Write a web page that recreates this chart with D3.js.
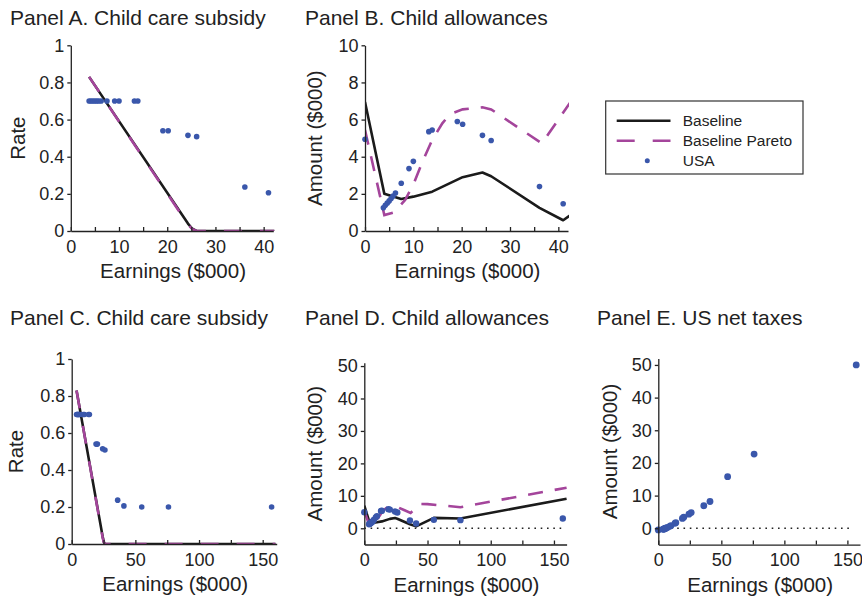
<!DOCTYPE html>
<html>
<head>
<meta charset="utf-8">
<script src="https://cdn.jsdelivr.net/npm/d3@7"></script>
<style>
  body { margin: 0; background: #fff; }
  svg { font-family: "Liberation Sans", Arial, sans-serif; }
  .tick text { font-size: 18px; fill: #222; }
  .domain, .tick line { stroke: #222; stroke-width: 1.3; }
</style>
</head>
<body>
<svg id="chart" width="862" height="601"></svg>
<script>
// ---- data ----
// earnings levels ($000) of the USA points (subsidy rate: no point at 0)
const rateEarn = [3.8, 4.2, 4.6, 5.0, 5.4, 5.8, 6.3, 7.5, 9.1, 10.0, 13.2, 13.9,
                  19.1, 20.2, 24.3, 26.1, 36.1, 41.0, 55, 76, 157];
const usaRate  = [0.70, 0.70, 0.70, 0.70, 0.70, 0.70, 0.70, 0.70, 0.70, 0.70, 0.70, 0.70,
                  0.54, 0.54, 0.515, 0.508, 0.237, 0.206, 0.20, 0.20, 0.20];

// earnings levels for allowances / net taxes (includes 0)
const usaEarn = [0, 3.8, 4.2, 4.6, 5.0, 5.4, 5.8, 6.3, 7.5, 9.1, 10.0, 13.2, 13.9,
                 19.1, 20.2, 24.3, 26.1, 36.1, 41.0, 55, 76, 157];
const usaAllow = [4.94, 1.25, 1.38, 1.50, 1.62, 1.75, 1.88, 2.05, 2.57, 3.36, 3.75, 5.35, 5.44,
                  5.90, 5.75, 5.15, 4.87, 2.39, 1.47, 2.6, 2.5, 3.0];
const usaTax   = [-0.5, -0.3, -0.25, -0.2, -0.15, -0.1, 0, 0.1, 0.3, 0.6, 0.8, 1.5, 1.7,
                  3.0, 3.4, 4.3, 4.8, 6.9, 8.2, 15.8, 22.7, 50.0];

// model schedules
const rateBaseX   = [3.8, 24.3, 25.2, 26.1, 160];
const rateBaseY   = [0.83, 0.04, 0.012, 0, 0];
const rateParetoX = [3.8, 24.3, 25.2, 26.1, 160];
const rateParetoY = [0.83, 0.035, 0.01, 0, 0];

const allowBaseX = [0, 4.0, 7.5, 10.0, 13.9, 20.2, 24.3, 26.1, 36.1, 41.0, 55, 76, 160];
const allowBaseY = [6.95, 2.0, 1.72, 1.85, 2.12, 2.9, 3.15, 2.95, 1.25, 0.58, 3.2, 3.0, 9.1];
const allowParetoX = [0, 4.0, 6.0, 8.3, 10.0, 12.0, 13.9, 16.0, 17.6, 20.2, 24.3, 26.1,
                      31.4, 36.6, 44, 50, 76, 160];
const allowParetoY = [5.44, 0.86, 1.0, 1.67, 2.5, 3.8, 4.9, 5.8, 6.3, 6.55, 6.66, 6.55,
                      5.62, 4.72, 7.5, 7.45, 6.5, 12.5];

const zip = (xs, ys) => xs.map((x, i) => ({x: x, y: ys[i]}));

const COLORS = {base: "#1b1b1b", pareto: "#a4459b", usa: "#3a57ab"};

// panel layout (pixel boxes)
const panels = [
  {title: "Panel A. Child care subsidy", tx: 10, ty: 25, ylab: "Rate", ylx: 25,
   xr: [70.8, 273.3], xd: [0, 42], yr: [231, 45.3], yd: [0, 1],
   xticks: d3.range(0, 45, 5), xlabels: d3.range(0, 50, 10), yticks: d3.range(0, 1.01, 0.2),
   base: zip(rateBaseX, rateBaseY), pareto: zip(rateParetoX, rateParetoY),
   usa: zip(rateEarn, usaRate), r: 2.8, dash: "18,18"},
  {title: "Panel B. Child allowances", tx: 305, ty: 25, ylab: "Amount ($000)", ylx: 322,
   xr: [365, 568], xd: [0, 42], yr: [231, 45.3], yd: [0, 10],
   xticks: d3.range(0, 45, 5), xlabels: d3.range(0, 50, 10), yticks: d3.range(0, 11, 2),
   base: zip(allowBaseX, allowBaseY), pareto: zip(allowParetoX, allowParetoY),
   usa: zip(usaEarn, usaAllow), r: 2.8, dash: "15,12"},
  {title: "Panel C. Child care subsidy", tx: 10, ty: 325, ylab: "Rate", ylx: 22.5,
   xr: [71.7, 276.7], xd: [0, 161], yr: [544, 359], yd: [0, 1],
   xticks: d3.range(0, 175, 25), xlabels: [0, 50, 100, 150], yticks: d3.range(0, 1.01, 0.2),
   base: zip(rateBaseX, rateBaseY), pareto: zip(rateParetoX, rateParetoY),
   usa: zip(rateEarn, usaRate), r: 2.8, dash: "18,18"},
  {title: "Panel D. Child allowances", tx: 305, ty: 325, ylab: "Amount ($000)", ylx: 322,
   xr: [364.3, 566.6], xd: [0, 160], yr: [544.5, 362.8], yd: [-5, 51],
   xticks: d3.range(0, 175, 25), xlabels: [0, 50, 100, 150], yticks: d3.range(0, 51, 10),
   base: zip(allowBaseX, allowBaseY), pareto: zip(allowParetoX, allowParetoY),
   usa: zip(usaEarn, usaAllow), r: 3.2, dash: "15,12", zero: 156},
  {title: "Panel E. US net taxes", tx: 597, ty: 325, ylab: "Amount ($000)", ylx: 617,
   xr: [658.3, 860], xd: [0, 160], yr: [544.6, 358.4], yd: [-5, 52],
   xticks: d3.range(0, 175, 25), xlabels: [0, 50, 100, 150], yticks: d3.range(0, 51, 10),
   usa: zip(usaEarn, usaTax), r: 3.4, zero: 153}
];

const svg = d3.select("#chart");

panels.forEach((p, i) => {
  const x = d3.scaleLinear().domain(p.xd).range(p.xr);
  const y = d3.scaleLinear().domain(p.yd).range(p.yr);
  const g = svg.append("g");

  // clip lines to the plotting box
  const clipId = "clip" + i;
  svg.append("clipPath").attr("id", clipId)
    .append("rect")
      .attr("x", p.xr[0]).attr("y", p.yr[1] - 4)
      .attr("width", p.xr[1] - p.xr[0] + 1).attr("height", p.yr[0] - p.yr[1] + 4);

  // title
  g.append("text")
    .attr("x", p.tx).attr("y", p.ty)
    .attr("font-size", "21px").attr("fill", "#222")
    .text(p.title);

  // zero reference line
  if (p.zero) {
    g.append("line")
      .attr("x1", x(0)).attr("x2", x(p.zero))
      .attr("y1", y(0)).attr("y2", y(0))
      .attr("stroke", "#222").attr("stroke-width", 1.6)
      .attr("stroke-dasharray", "1.6,4.7");
  }

  const plot = g.append("g").attr("clip-path", "url(#" + clipId + ")");
  const line = d3.line().x(d => x(d.x)).y(d => y(d.y));

  if (p.base) {
    plot.append("path").datum(p.base)
      .attr("d", line).attr("fill", "none")
      .attr("stroke", COLORS.base).attr("stroke-width", 2.6)
      .attr("stroke-linejoin", "round");
    plot.append("path").datum(p.pareto)
      .attr("d", line).attr("fill", "none")
      .attr("stroke", COLORS.pareto).attr("stroke-width", 2.6)
      .attr("stroke-dasharray", p.dash);
  }

  // USA points that fall inside the x range of the panel
  g.selectAll(null)
    .data(p.usa.filter(d => d.x <= p.xd[1]))
    .enter()
    .append("circle")
      .attr("cx", d => x(d.x))
      .attr("cy", d => y(d.y))
      .attr("r", p.r)
      .attr("fill", COLORS.usa);

  // x axis (ticks pointing inward)
  g.append("g")
    .attr("transform", "translate(0," + p.yr[0] + ")")
    .call(d3.axisBottom(x).tickValues(p.xticks).tickSizeInner(-4).tickSizeOuter(0)
      .tickPadding(9).tickFormat(d => p.xlabels.includes(d) ? d : ""));

  // y axis
  g.append("g")
    .attr("transform", "translate(" + p.xr[0] + ",0)")
    .call(d3.axisLeft(y).tickValues(p.yticks).tickSizeInner(3.5).tickSizeOuter(0)
      .tickPadding(3).tickFormat(d => String(+d.toFixed(1))));

  // axis titles
  g.append("text")
    .attr("x", (p.xr[0] + p.xr[1]) / 2 + 1)
    .attr("y", p.yr[0] + 47)
    .attr("text-anchor", "middle")
    .attr("font-size", "20.5px").attr("fill", "#222")
    .text("Earnings ($000)");

  g.append("text")
    .attr("transform", "translate(" + p.ylx + "," + ((p.yr[0] + p.yr[1]) / 2) + ") rotate(-90)")
    .attr("text-anchor", "middle")
    .attr("font-size", "20.5px").attr("fill", "#222")
    .text(p.ylab);
});

// legend
const legend = svg.append("g");
legend.append("rect")
  .attr("x", 605.7).attr("y", 101).attr("width", 197.3).attr("height", 73)
  .attr("fill", "none").attr("stroke", "#333").attr("stroke-width", 1.2);

const legendItems = [
  {label: "Baseline", type: "base"},
  {label: "Baseline Pareto", type: "pareto"},
  {label: "USA", type: "usa"}
];

legendItems.forEach((it, i) => {
  const cy = 120.7 + i * 20;
  if (it.type === "usa") {
    legend.append("circle").attr("cx", 647.3).attr("cy", cy).attr("r", 2.5)
      .attr("fill", COLORS.usa);
  } else {
    legend.append("line")
      .attr("x1", 616.7).attr("x2", 670.5).attr("y1", cy).attr("y2", cy)
      .attr("stroke", COLORS[it.type]).attr("stroke-width", 2.4)
      .attr("stroke-dasharray", it.type === "pareto" ? "18,18" : null);
  }
  legend.append("text")
    .attr("x", 682.7).attr("y", cy + 5)
    .attr("font-size", "15.5px").attr("fill", "#222")
    .text(it.label);
});
</script>
</body>
</html>
